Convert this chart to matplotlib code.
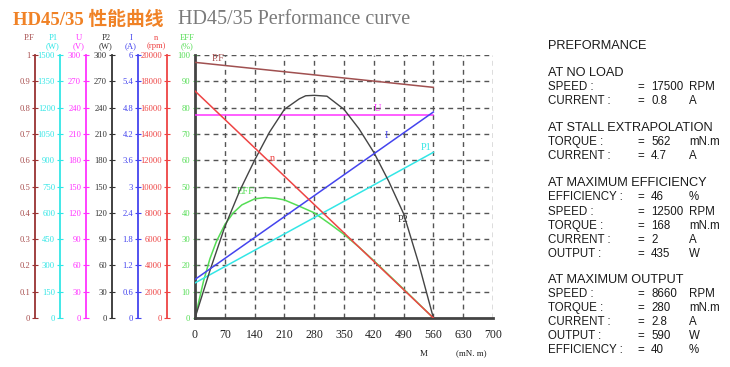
import matplotlib
matplotlib.use("Agg")
import matplotlib.pyplot as plt
from matplotlib.ticker import FixedLocator, FixedFormatter

# ---------------- data ----------------
torque_ticks = [0, 70, 140, 210, 280, 350, 420, 490, 560, 630, 700]

pf_ticks = [0, 0.1, 0.2, 0.3, 0.4, 0.5, 0.6, 0.7, 0.8, 0.9, 1]
pf_labels = ["0", "0.1", "0.2", "0.3", "0.4", "0.5", "0.6", "0.7", "0.8", "0.9", "1"]
p1_ticks = [0, 150, 300, 450, 600, 750, 900, 1050, 1200, 1350, 1500]
u_ticks = [0, 30, 60, 90, 120, 150, 180, 210, 240, 270, 300]
p2_ticks = [0, 30, 60, 90, 120, 150, 180, 210, 240, 270, 300]
i_ticks = [0, 0.6, 1.2, 1.8, 2.4, 3, 3.6, 4.2, 4.8, 5.4, 6]
i_labels = ["0", "0.6", "1.2", "1.8", "2.4", "3", "3.6", "4.2", "4.8", "5.4", "6"]
n_ticks = [0, 2000, 4000, 6000, 8000, 10000, 12000, 14000, 16000, 18000, 20000]
eff_ticks = [0, 10, 20, 30, 40, 50, 60, 70, 80, 90, 100]

# linear curves (end points at torque 0 and 560)
line_torque = [0, 560]
pf_vals = [0.972, 0.877]
u_vals = [231, 231]
i_vals = [0.88, 4.7]
p1_vals = [200, 945]
n_vals = [17260, 0]

p2_torque = [0, 35, 70, 105, 140, 175, 210, 245, 260, 280, 310, 350, 385, 420, 455, 490, 525, 560]
p2_vals = [0, 54, 104, 145, 180, 212, 238, 250, 253.5, 254, 253, 238, 216, 189, 156, 119, 63, 0]

eff_torque = [0, 10, 20, 35, 50, 70, 90, 110, 140, 165, 190, 210, 245, 280, 315, 350, 385, 420, 455, 490, 525, 560]
eff_vals = [0, 7, 14, 22.5, 29, 35.5, 40, 43, 45.3, 45.8, 45.5, 44.9, 42.5, 40, 36, 31.8, 27, 21.8, 16.4, 11, 5.5, 0]

perf_lines = [
    ("PREFORMANCE", None, None, True),
    ("AT NO LOAD", None, None, True),
    ("SPEED :", "17500", "RPM", False),
    ("CURRENT :", "0.8", "A", False),
    ("AT STALL EXTRAPOLATION", None, None, True),
    ("TORQUE :", "562", "mN.m", False),
    ("CURRENT :", "4.7", "A", False),
    ("AT MAXIMUM EFFICIENCY", None, None, True),
    ("EFFICIENCY :", "46", "%", False),
    ("SPEED :", "12500", "RPM", False),
    ("TORQUE :", "168", "mN.m", False),
    ("CURRENT :", "2", "A", False),
    ("OUTPUT :", "435", "W", False),
    ("AT MAXIMUM OUTPUT", None, None, True),
    ("SPEED :", "8660", "RPM", False),
    ("TORQUE :", "280", "mN.m", False),
    ("CURRENT :", "2.8", "A", False),
    ("OUTPUT :", "590", "W", False),
    ("EFFICIENCY :", "40", "%", False),
]
perf_y = [46, 73, 87, 101, 128, 142, 156, 183, 197, 212, 226, 240, 254, 280, 294, 308, 322, 336, 350]

# ---------------- styling ----------------
C_PF = "#a85050"
C_P1 = "#33e6e6"
C_U = "#ff33ff"
C_P2 = "#333333"
C_I = "#4444ee"
C_N = "#ee4444"
C_EFF = "#55dd55"
SERIF = ["Liberation Serif", "DejaVu Serif"]

W, H = 730, 367
fig = plt.figure(figsize=(W / 100, H / 100), dpi=100)

x0, x1, y0, y1 = 195, 493, 318, 55
ax = fig.add_axes([x0 / W, 1 - y0 / H, (x1 - x0) / W, (y0 - y1) / H])
ax.set_xlim(0, 700)
ax.set_ylim(0, 100)
for s in ["top", "right"]:
    ax.spines[s].set_visible(False)
ax.spines["left"].set_color("#444444")
ax.spines["left"].set_linewidth(2)
ax.spines["bottom"].set_color("#444444")
ax.spines["bottom"].set_linewidth(2)
ax.xaxis.set_major_locator(FixedLocator(torque_ticks))
ax.set_xticklabels([str(t) for t in torque_ticks], fontsize=8.5, family=SERIF, color="#222222")
ax.tick_params(axis="x", length=0, pad=8)
ax.yaxis.set_major_locator(FixedLocator(eff_ticks))
ax.set_yticklabels([str(t) for t in eff_ticks], fontsize=6.2, family=SERIF, color=C_EFF)
ax.tick_params(axis="y", length=3, direction="inout", color=C_EFF, pad=2)
# dashed grid
for t in torque_ticks[1:]:
    ax.axvline(t, color="#555555", lw=1.0, ls=(0, (3.5, 3)), zorder=0)
for t in eff_ticks[1:]:
    ax.axhline(t, color="#555555", lw=1.0, ls=(0, (3.5, 3)), zorder=0)


def side_axis(px, ylim, ticks, labels, color, spine_color=None):
    a = ax.twinx()
    a.set_ylim(*ylim)
    a.yaxis.set_ticks_position("left")
    a.yaxis.set_label_position("left")
    for s in ["top", "right", "bottom"]:
        a.spines[s].set_visible(False)
    a.spines["left"].set_position(("axes", (px - x0) / (x1 - x0)))
    a.spines["left"].set_color(spine_color or color)
    a.spines["left"].set_linewidth(1.3)
    a.yaxis.set_major_locator(FixedLocator(ticks))
    a.yaxis.set_major_formatter(FixedFormatter(labels))
    a.tick_params(axis="y", length=4, direction="inout", color=spine_color or color,
                  labelcolor=color, labelsize=6.2, pad=1.5)
    for lab in a.get_yticklabels():
        lab.set_family(SERIF)
    a.patch.set_visible(False)
    return a


ax_pf = side_axis(35, (0, 1), pf_ticks, pf_labels, C_PF, "#993333")
ax_p1 = side_axis(60, (0, 1500), p1_ticks, [str(t) for t in p1_ticks], C_P1)
ax_u = side_axis(86, (0, 300), u_ticks, [str(t) for t in u_ticks], C_U)
ax_p2 = side_axis(112, (0, 300), p2_ticks, [str(t) for t in p2_ticks], C_P2)
ax_i = side_axis(138, (0, 6), i_ticks, i_labels, C_I)
ax_n = side_axis(167, (0, 20000), n_ticks, [str(t) for t in n_ticks], C_N)

# curves
ax_pf.plot(line_torque, pf_vals, color="#a05050", lw=1.1)
ax_u.plot(line_torque, u_vals, color=C_U, lw=1.1)
ax_i.plot(line_torque, i_vals, color=C_I, lw=1.1)
ax_p1.plot(line_torque, p1_vals, color=C_P1, lw=1.1)
ax_n.plot(line_torque, n_vals, color=C_N, lw=1.1)
ax_p2.plot(p2_torque, p2_vals, color="#444444", lw=1.0)
ax.plot(eff_torque, eff_vals, color=C_EFF, lw=1.1)

# curve labels (in EFF % coordinates)
lab_kw = dict(family=SERIF, fontsize=7.5)
ax.text(40, 98.5, "P.F", color=C_PF, ha="left", va="center", **lab_kw)
ax.text(181, 60.5, "n", color=C_N, ha="center", va="center", **lab_kw)
ax.text(428, 79.8, "U", color=C_U, ha="center", va="center", **lab_kw)
ax.text(450, 69.5, "I", color=C_I, ha="center", va="center", **lab_kw)
ax.text(544, 64.8, "P1", color=C_P1, ha="center", va="center", **lab_kw)
ax.text(488, 37.5, "P2", color="#333333", ha="center", va="center", **lab_kw)
ax.text(118, 48, "EFF", color=C_EFF, ha="center", va="center", **lab_kw)

# axis units
ax.text(538, -13.5, "M", family=SERIF, fontsize=6.5, ha="center", va="center", color="#222222")
ax.text(650, -13.5, "(mN. m)", family=SERIF, fontsize=6.5, ha="center", va="center", color="#222222")

# axis titles
titles = [(29, "P.F", "", C_PF), (53, "P1", "(W)", C_P1), (79, "U", "(V)", C_U),
          (106, "P2", "(W)", C_P2), (131, "I", "(A)", C_I), (156, "n", "(rpm)", C_N),
          (187, "EFF", "(%)", C_EFF)]
for px, t1, t2, c in titles:
    fig.text(px / W, 1 - 37.5 / H, t1, family=SERIF, fontsize=6.2, color=c, ha="center", va="center")
    if t2:
        fig.text(px / W, 1 - 46 / H, t2, family=SERIF, fontsize=6.2, color=c, ha="center", va="center")

# main title
fig.text(13 / W, 1 - 20 / H, "HD45/35 性能曲线", family=["Liberation Serif", "Noto Sans CJK SC"],
         fontsize=13.5, fontweight="bold", color="#f08226", ha="left", va="center")
fig.text(178 / W, 1 - 20 / H, "HD45/35 Performance curve", family=SERIF,
         fontsize=14.5, color="#7a7a7a", ha="left", va="center")

# performance panel
SANS = ["Liberation Sans", "DejaVu Sans"]
for (lbl, val, unit, hdr), py in zip(perf_lines, perf_y):
    yy = 1 - py / H
    fig.text(548 / W, yy, lbl, family=SANS, fontsize=9.2 if hdr else 8.3,
             color="#1a1a1a", ha="left", va="center")
    if val is not None:
        fig.text(637 / W, yy, "=", family=SANS, fontsize=8.3, color="#1a1a1a", ha="left", va="center")
        fig.text(651 / W, yy, val, family=SANS, fontsize=8.3, color="#1a1a1a", ha="left", va="center")
        fig.text(689 / W, yy, unit, family=SANS, fontsize=8.3, color="#1a1a1a", ha="left", va="center")

fig.savefig("out.png", dpi=100)
